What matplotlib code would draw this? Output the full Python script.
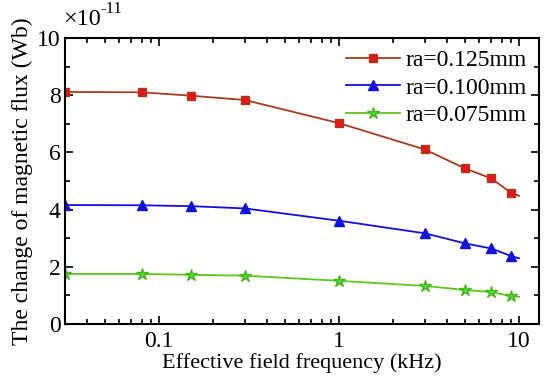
import numpy as np
from matplotlib import pyplot as plt
from matplotlib.ticker import FixedLocator, NullFormatter, MultipleLocator

plt.rcParams['font.family'] = ['Liberation Serif', 'DejaVu Serif']

freq = [0.03, 0.08, 0.15, 0.3, 1, 3, 5, 7, 9, 10]
flux_125 = [8.11, 8.10, 7.98, 7.83, 7.02, 6.10, 5.44, 5.09, 4.59, 4.48]
flux_100 = [4.16, 4.15, 4.12, 4.04, 3.61, 3.17, 2.82, 2.64, 2.38, 2.30]
flux_075 = [1.75, 1.75, 1.72, 1.69, 1.51, 1.33, 1.19, 1.12, 0.98, 0.95]
labels = ['ra=0.125mm', 'ra=0.100mm', 'ra=0.075mm']

fig = plt.figure(figsize=(5.5, 3.83), dpi=100)
ax = fig.add_axes([0.118, 0.154, 0.862, 0.747])

marks = list(range(9))
ax.plot(freq, flux_125, '-s', color='#a83a1e', mfc='#e8141a', mec='#a0401a',
        ms=6, lw=1.3, markevery=marks, label=labels[0])
ax.plot(freq, flux_100, '-^', color='#1010e0', mfc='#1010e0', mec='#1010e0',
        ms=7.5, lw=1.3, markevery=marks, label=labels[1])
ax.plot(freq, flux_075, '-*', color='#5cc81c', mfc='#40e030', mec='#50b020',
        ms=9, lw=1.3, markevery=marks, label=labels[2])

ax.set_xscale('log')
ax.set_xlim(0.03, 12.9)
ax.set_ylim(0, 10)
ax.set_xticks([0.1, 1, 10])
ax.set_xticklabels(['0.1', '1', '10'])
ax.xaxis.set_minor_locator(FixedLocator(
    [k * 10.0 ** e for e in (-2, -1, 0) for k in range(2, 10)]))
ax.xaxis.set_minor_formatter(NullFormatter())
ax.yaxis.set_major_locator(MultipleLocator(2))
ax.yaxis.set_minor_locator(MultipleLocator(1))

ax.tick_params(which='both', direction='in', top=True, right=True,
               labelsize=17, width=1.2)
ax.tick_params(which='major', length=6)
ax.tick_params(which='minor', length=3.5)
ax.tick_params(axis='x', pad=5)
ax.tick_params(axis='y', pad=3)
for s in ax.spines.values():
    s.set_linewidth(1.5)

ax.set_xlabel('Effective field frequency (kHz)', fontsize=16, labelpad=1)
ax.set_ylabel('The change of magnetic flux (Wb)', fontsize=17, labelpad=3)

# multiplier label above the axes
ax.annotate('\u00d710', xy=(0, 1), xycoords='axes fraction', xytext=(-1, 9),
            textcoords='offset points', fontsize=17.5, ha='left', va='baseline')
ax.annotate('-11', xy=(0, 1), xycoords='axes fraction', xytext=(25.5, 18),
            textcoords='offset points', fontsize=12, ha='left', va='baseline')

leg = ax.legend(loc='upper right', frameon=False, fontsize=17, handlelength=2.3,
                handletextpad=0.25, borderaxespad=0.1, labelspacing=0.25)

fig.savefig('out.png', dpi=100)
